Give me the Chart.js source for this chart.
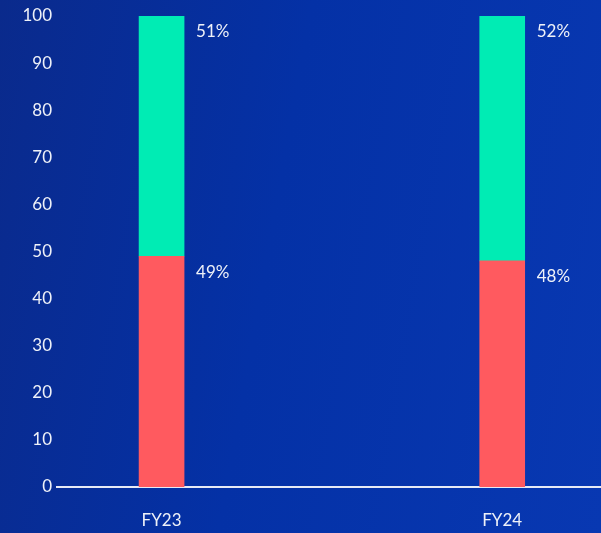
<!DOCTYPE html>
<html>
<head>
<meta charset="utf-8">
<script src="https://cdn.jsdelivr.net/npm/chart.js@4/dist/chart.umd.min.js"></script>
<style>
  html, body { margin: 0; padding: 0; }
  body {
    width: 601px; height: 533px; overflow: hidden;
    background: linear-gradient(100deg, #0a2a8c 0%, #0431a6 45%, #0838b2 100%);
  }
  canvas { display: block; }
</style>
</head>
<body>
<canvas id="mixChart" width="601" height="533"></canvas>
<script>
var years = ["FY23", "FY24"];
var yearPos = [0, 1];
var lowerShare = [49, 48];
var upperShare = [51, 52];
var yTicks = [0, 10, 20, 30, 40, 50, 60, 70, 80, 90, 100];

function points(values) {
    var out = [];
    for (var i = 0; i < values.length; i++) {
        out.push({x: yearPos[i], y: values[i]});
    }
    return out;
}

// percentage text to the right of each segment, near its top
var sideLabels = {
    id: "sideLabels",
    afterDatasetsDraw: function (chart) {
        var ctx = chart.ctx;
        ctx.save();
        ctx.font = "17px Lato";
        ctx.fillStyle = "#eef1f8";
        ctx.textAlign = "left";
        ctx.textBaseline = "middle";
        chart.data.datasets.forEach(function (ds, d) {
            chart.getDatasetMeta(d).data.forEach(function (bar, i) {
                ctx.fillText(ds.data[i].y + "%", bar.x + bar.width / 2 + 12, bar.y + 16);
            });
        });
        ctx.restore();
    }
};

var ctx = document.getElementById("mixChart").getContext("2d");
var chart = new Chart(ctx, {
    type: "bar",
    data: {
        datasets: [
            {data: points(lowerShare), backgroundColor: "#ff5a5f", barThickness: 45},
            {data: points(upperShare), backgroundColor: "#00ecb4", barThickness: 45}
        ]
    },
    options: {
        responsive: false,
        animation: false,
        layout: {padding: {top: 16, right: 0, left: 0, bottom: 0}},
        plugins: {legend: {display: false}, tooltip: {enabled: false}},
        scales: {
            x: {
                type: "linear",
                stacked: true,
                offset: false,
                min: -0.307,
                max: 1.29,
                afterBuildTicks: function (scale) {
                    scale.ticks = yearPos.map(function (v) { return {value: v}; });
                },
                afterFit: function (scale) { scale.height = 46; },
                ticks: {
                    color: "#eef1f8",
                    font: {family: "Lato", size: 17},
                    padding: 23,
                    autoSkip: false,
                    maxRotation: 0,
                    callback: function (v) { return years[yearPos.indexOf(v)]; }
                },
                grid: {display: false, drawTicks: false},
                border: {display: true, color: "#e6eaf5", width: 2}
            },
            y: {
                stacked: true,
                min: 0,
                max: 100,
                afterBuildTicks: function (scale) {
                    scale.ticks = yTicks.map(function (v) { return {value: v}; });
                },
                afterFit: function (scale) { scale.width = 57; },
                ticks: {
                    color: "#eef1f8",
                    font: {family: "Lato", size: 17},
                    padding: 5,
                    autoSkip: false
                },
                grid: {display: false, drawTicks: false},
                border: {display: false}
            }
        }
    },
    plugins: [sideLabels]
});
</script>
</body>
</html>
